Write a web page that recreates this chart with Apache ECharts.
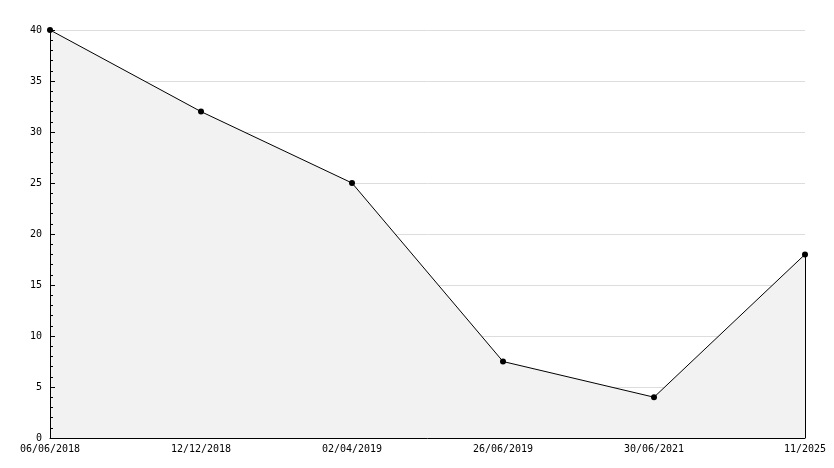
<!DOCTYPE html>
<html><head><meta charset="utf-8">
<script src="https://cdn.jsdelivr.net/npm/echarts@6/dist/echarts.min.js"></script>
<style>html,body{margin:0;padding:0;background:#fff}#c{width:834px;height:468px}</style>
</head><body><div id="c"></div>
<script>
const categories = ['06/06/2018','12/12/2018','02/04/2019','26/06/2019','30/06/2021','11/2025'];
const values = [40, 32, 25, 7.5, 4, 18];
const yMin = 0, yMax = 40, yStep = 5;

const chart = echarts.init(document.getElementById('c'), null, {renderer:'canvas'});
const font = {fontFamily:'DejaVu Sans Mono', fontSize:10, color:'#000'};
const last = categories.length - 1;
chart.setOption({
  animation:false,
  grid:{left:50, right:29, top:30, bottom:30},
  xAxis:{type:'category', data:categories, boundaryGap:false, z:10,
    axisLine:{lineStyle:{color:'#000', width:1}},
    axisTick:{show:false},
    axisLabel:Object.assign({margin:6, interval:0}, font),
    splitLine:{show:false}},
  yAxis:[
    {type:'value', min:yMin, max:yMax, interval:yStep, z:0, position:'left',
      axisLine:{show:false}, axisTick:{show:false}, axisLabel:{show:false},
      splitLine:{show:true, lineStyle:{color:'#dddddd', width:1}}},
    {type:'value', min:yMin, max:yMax, interval:yStep, z:10, position:'left', offset:0,
      axisLine:{show:true, onZero:false, lineStyle:{color:'#000', width:1}},
      axisTick:{show:true, inside:true, length:5, lineStyle:{color:'#000'}},
      minorTick:{show:true, splitNumber:5, length:3, lineStyle:{color:'#000'}},
      axisLabel:Object.assign({margin:8}, font),
      splitLine:{show:false}}
  ],
  series:[{type:'line', data:values, symbol:'circle', symbolSize:6, z:2, yAxisIndex:0,
    itemStyle:{color:'#000'},
    lineStyle:{color:'#000', width:1},
    areaStyle:{color:'#f2f2f2', opacity:1},
    markLine:{silent:true, symbol:'none', label:{show:false},
      lineStyle:{color:'#000', width:1, type:'solid'},
      data:[[{coord:[categories[last], 0]},{coord:[categories[last], values[last]]}]]}
  }]
});
</script></body></html>
